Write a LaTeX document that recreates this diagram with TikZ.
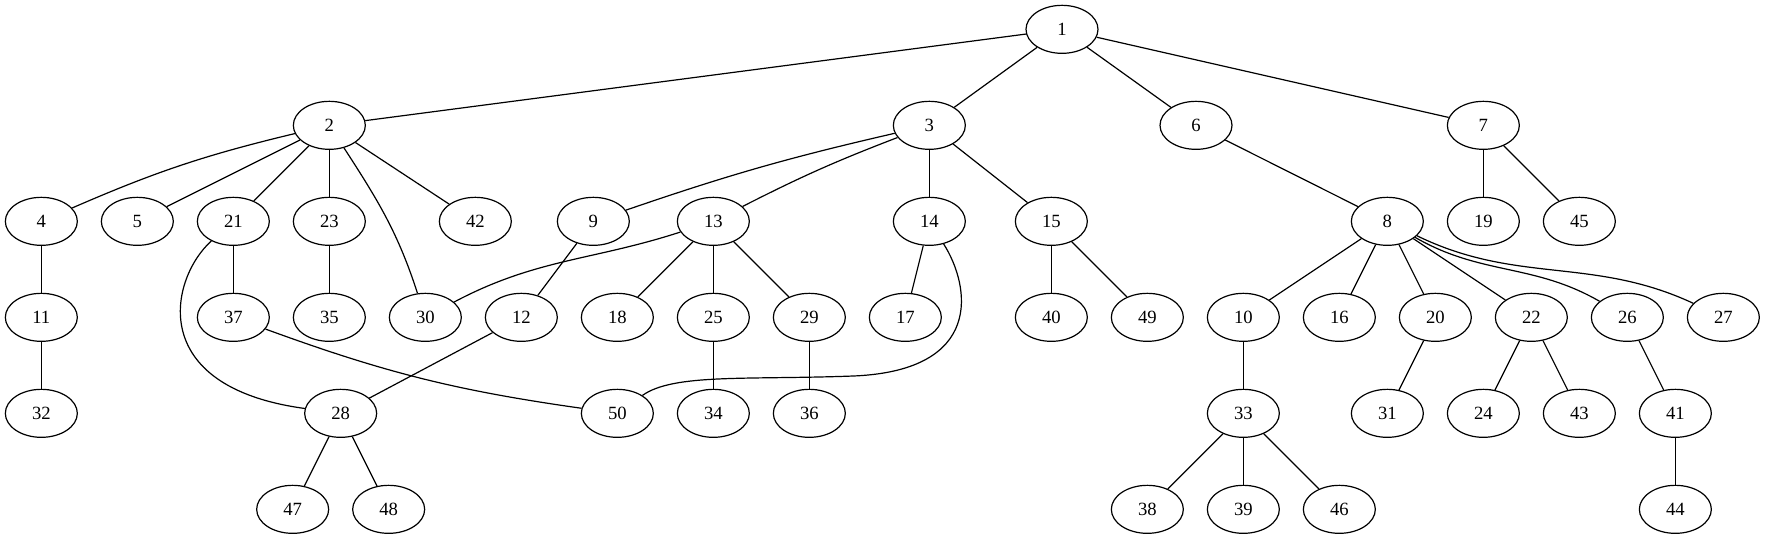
\documentclass[tikz,border=0pt]{standalone}
\usepackage{fontspec}
\setmainfont{Liberation Serif}
\usetikzlibrary{shapes.geometric}
\begin{document}
\begin{tikzpicture}[x=1pt,y=1pt,
  vtx/.style={ellipse,draw,line width=0.9pt,minimum width=54pt,minimum height=36pt,inner sep=0pt,font=\fontsize{14}{16}\selectfont},
  every path/.style={line width=0.9pt}]
\useasboundingbox (0,0) rectangle (1323.75,-404.25);
% rank 0
\node[vtx] (n1) at (796.5,-22) {1};
% rank 1
\node[vtx] (n2) at (247,-94) {2};
\node[vtx] (n3) at (697,-94) {3};
\node[vtx] (n6) at (897,-94) {6};
\node[vtx] (n7) at (1112.5,-94) {7};
% rank 2
\node[vtx] (n4) at (31,-166) {4};
\node[vtx] (n5) at (103,-166) {5};
\node[vtx] (n21) at (175,-166) {21};
\node[vtx] (n23) at (247,-166) {23};
\node[vtx] (n42) at (356.5,-166) {42};
\node[vtx] (n9) at (445,-166) {9};
\node[vtx] (n13) at (535,-166) {13};
\node[vtx] (n14) at (697,-166) {14};
\node[vtx] (n15) at (788.5,-166) {15};
\node[vtx] (n8) at (1040.5,-166) {8};
\node[vtx] (n19) at (1112.5,-166) {19};
\node[vtx] (n45) at (1184.5,-166) {45};
% rank 3
\node[vtx] (n11) at (31,-238) {11};
\node[vtx] (n37) at (175,-238) {37};
\node[vtx] (n35) at (247,-238) {35};
\node[vtx] (n30) at (319,-238) {30};
\node[vtx] (n12) at (391,-238) {12};
\node[vtx] (n18) at (463,-238) {18};
\node[vtx] (n25) at (535,-238) {25};
\node[vtx] (n29) at (607,-238) {29};
\node[vtx] (n17) at (679,-238) {17};
\node[vtx] (n40) at (788.5,-238) {40};
\node[vtx] (n49) at (860.5,-238) {49};
\node[vtx] (n10) at (932.5,-238) {10};
\node[vtx] (n16) at (1004.5,-238) {16};
\node[vtx] (n20) at (1076.5,-238) {20};
\node[vtx] (n22) at (1148.5,-238) {22};
\node[vtx] (n26) at (1220.5,-238) {26};
\node[vtx] (n27) at (1292.5,-238) {27};
% rank 4
\node[vtx] (n32) at (31,-310) {32};
\node[vtx] (n28) at (255.5,-310) {28};
\node[vtx] (n50) at (463,-310) {50};
\node[vtx] (n34) at (535,-310) {34};
\node[vtx] (n36) at (607,-310) {36};
\node[vtx] (n33) at (932.5,-310) {33};
\node[vtx] (n31) at (1040.5,-310) {31};
\node[vtx] (n24) at (1112.5,-310) {24};
\node[vtx] (n43) at (1184.5,-310) {43};
\node[vtx] (n41) at (1256.5,-310) {41};
% rank 5
\node[vtx] (n47) at (219.5,-382) {47};
\node[vtx] (n48) at (291.5,-382) {48};
\node[vtx] (n38) at (860.5,-382) {38};
\node[vtx] (n39) at (932.5,-382) {39};
\node[vtx] (n46) at (1004.5,-382) {46};
\node[vtx] (n44) at (1256.5,-382) {44};
% edges
\draw (n1) -- (n2);
\draw (n1) -- (n3);
\draw (n1) -- (n6);
\draw (n1) -- (n7);
\draw (n2) to[bend right=5] (n4);
\draw (n2) -- (n5);
\draw (n2) -- (n21);
\draw (n2) -- (n23);
\draw (n2) to[out=-57,in=108] (n30);
\draw (n2) -- (n42);
\draw (n3) to[bend right=3] (n9);
\draw (n3) to[bend right=3] (n13);
\draw (n3) -- (n14);
\draw (n3) -- (n15);
\draw (n6) -- (n8);
\draw (n7) -- (n19);
\draw (n7) -- (n45);
\draw (n4) -- (n11);
\draw (n11) -- (n32);
\draw (n21) -- (n37);
\draw (n21) .. controls (128,-208) and (108,-290) .. (n28);
\draw (n23) -- (n35);
\draw (n9) -- (n12);
\draw (n13) to[out=198,in=28] (n30);
\draw (n13) -- (n18);
\draw (n13) -- (n25);
\draw (n13) -- (n29);
\draw (n14) -- (n17);
\draw (n14) .. controls (728,-215) and (738,-278) .. (640,-282) .. controls (560,-285) and (505,-280) .. (n50);
\draw (n15) -- (n40);
\draw (n15) -- (n49);
\draw (n8) -- (n10);
\draw (n8) -- (n16);
\draw (n8) -- (n20);
\draw (n8) -- (n22);
\draw (n8) to[out=-30,in=150] (n26);
\draw (n8) to[out=-26,in=155] (n27);
\draw (n37) to[bend right=6] (n50);
\draw (n12) -- (n28);
\draw (n25) -- (n34);
\draw (n29) -- (n36);
\draw (n10) -- (n33);
\draw (n33) -- (n38);
\draw (n33) -- (n39);
\draw (n33) -- (n46);
\draw (n20) -- (n31);
\draw (n22) -- (n24);
\draw (n22) -- (n43);
\draw (n26) -- (n41);
\draw (n41) -- (n44);
\draw (n28) -- (n47);
\draw (n28) -- (n48);
\end{tikzpicture}
\end{document}
